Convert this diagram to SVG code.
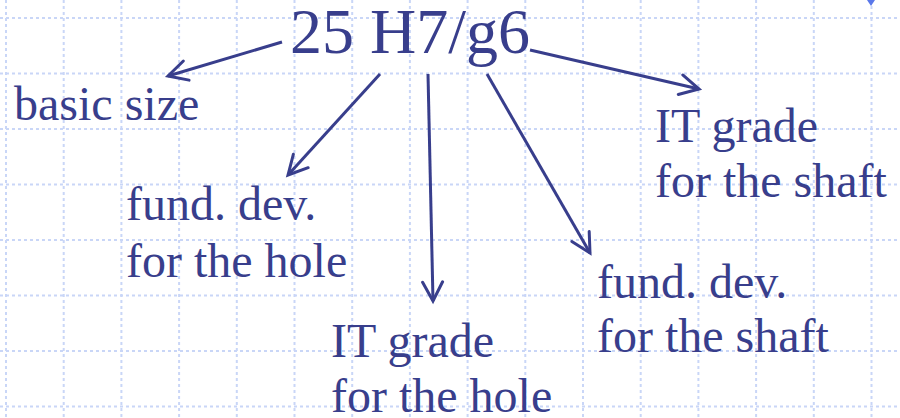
<svg xmlns="http://www.w3.org/2000/svg" width="900" height="418" viewBox="0 0 900 418">
<defs>
<style>
.grid line{stroke:#c9d6f7;stroke-width:2;stroke-dasharray:3 3}
.t{font-family:"Liberation Serif","Times New Roman",serif;fill:#383e8c;font-size:48px}
.big{font-size:64px}
.conn line{stroke:#383e8c;stroke-width:3;marker-end:url(#ah)}
</style>
<marker id="ah" markerUnits="userSpaceOnUse" viewBox="-22 -12 26 24" refX="0" refY="0" markerWidth="26" markerHeight="24" orient="auto">
<path d="M-19,-10 L0,0 L-19,10" fill="none" stroke="#383e8c" stroke-width="3" stroke-linecap="round" stroke-linejoin="miter"/>
</marker>
</defs>
<rect width="900" height="418" fill="#ffffff"/>
<g class="grid">
<line x1="6" y1="0" x2="6" y2="418"/>
<line x1="63.7" y1="0" x2="63.7" y2="418"/>
<line x1="121.4" y1="0" x2="121.4" y2="418"/>
<line x1="179.1" y1="0" x2="179.1" y2="418"/>
<line x1="236.8" y1="0" x2="236.8" y2="418"/>
<line x1="294.5" y1="0" x2="294.5" y2="418"/>
<line x1="352.2" y1="0" x2="352.2" y2="418"/>
<line x1="409.9" y1="0" x2="409.9" y2="418"/>
<line x1="467.6" y1="0" x2="467.6" y2="418"/>
<line x1="525.3" y1="0" x2="525.3" y2="418"/>
<line x1="583" y1="0" x2="583" y2="418"/>
<line x1="640.7" y1="0" x2="640.7" y2="418"/>
<line x1="698.4" y1="0" x2="698.4" y2="418"/>
<line x1="756.1" y1="0" x2="756.1" y2="418"/>
<line x1="813.8" y1="0" x2="813.8" y2="418"/>
<line x1="871.5" y1="0" x2="871.5" y2="418"/>
<line x1="0" y1="18" x2="900" y2="18"/>
<line x1="0" y1="73.5" x2="900" y2="73.5"/>
<line x1="0" y1="129" x2="900" y2="129"/>
<line x1="0" y1="184.5" x2="900" y2="184.5"/>
<line x1="0" y1="240" x2="900" y2="240"/>
<line x1="0" y1="295.5" x2="900" y2="295.5"/>
<line x1="0" y1="351" x2="900" y2="351"/>
<line x1="0" y1="406.5" x2="900" y2="406.5"/>
</g>
<polygon points="867,0 875,0 871,6" fill="#5a78ea"/>
<g id="conn" class="conn">
<line x1="282" y1="42" x2="168" y2="76"/>
<line x1="380" y1="74" x2="288" y2="175"/>
<line x1="428" y1="74" x2="433" y2="301"/>
<line x1="487" y1="74" x2="590" y2="253"/>
<line x1="530" y1="50" x2="699" y2="89"/>
</g>
<g id="code"><text class="t big" x="290" y="53">25 H7/g6</text></g>
<g id="basic-size"><text class="t" x="14" y="120">basic size</text></g>
<g id="fund-dev-hole"><text class="t" x="126" y="220">fund. dev.</text><text class="t" x="126" y="277">for the hole</text></g>
<g id="it-grade-hole"><text class="t" x="331" y="357">IT grade</text><text class="t" x="331" y="412">for the hole</text></g>
<g id="fund-dev-shaft"><text class="t" x="597" y="298">fund. dev.</text><text class="t" x="597" y="352">for the shaft</text></g>
<g id="it-grade-shaft"><text class="t" x="655" y="142">IT grade</text><text class="t" x="655" y="197">for the shaft</text></g>
</svg>
